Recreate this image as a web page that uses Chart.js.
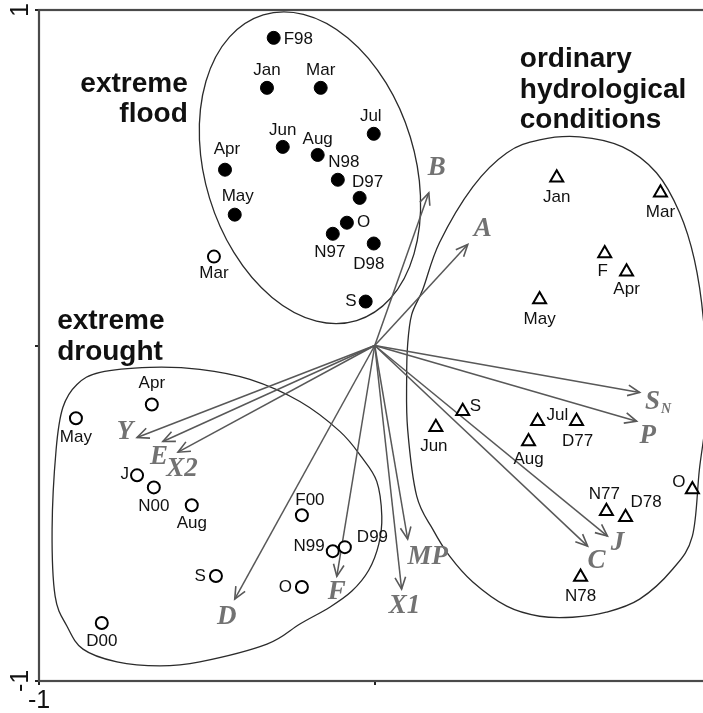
<!DOCTYPE html>
<html>
<head>
<meta charset="utf-8">
<script src="https://cdn.jsdelivr.net/npm/chart.js@4/dist/chart.umd.min.js"></script>
<style>
  html, body { margin: 0; padding: 0; overflow: hidden; background: #fff; }
  #wrap { width: 720px; height: 713px; }
</style>
</head>
<body>
<div id="wrap"><canvas id="c" width="720" height="713"></canvas></div>
<script>
// ---- Sample scores: extreme flood months (filled circles)
const floodLabels = ['F98', 'Jan', 'Mar', 'Jul', 'Jun', 'Aug', 'N98', 'D97', 'Apr', 'May', 'O', 'N97', 'D98', 'S'];
const floodX = [-0.301, -0.321, -0.161, -0.003, -0.274, -0.170, -0.110, -0.045, -0.446, -0.417, -0.083, -0.125, -0.003, -0.027];
const floodY = [0.917, 0.768, 0.768, 0.631, 0.592, 0.568, 0.494, 0.440, 0.524, 0.390, 0.366, 0.333, 0.304, 0.131];

// ---- Sample scores: extreme drought months (open circles)
const droughtLabels = ['Mar', 'Apr', 'May', 'J', 'N00', 'Aug', 'F00', 'N99', 'D99', 'S', 'O', 'D00'];
const droughtX = [-0.479, -0.664, -0.890, -0.708, -0.658, -0.545, -0.217, -0.125, -0.089, -0.473, -0.217, -0.813];
const droughtY = [0.265, -0.176, -0.217, -0.387, -0.423, -0.476, -0.506, -0.613, -0.601, -0.687, -0.720, -0.827];

// ---- Sample scores: ordinary hydrological conditions (open triangles)
const ordinaryLabels = ['Jan', 'Mar', 'F', 'Apr', 'May', 'S', 'Jun', 'Jul', 'D77', 'Aug', 'N77', 'D78', 'O', 'N78'];
const ordinaryX = [0.542, 0.851, 0.685, 0.750, 0.491, 0.262, 0.182, 0.485, 0.601, 0.458, 0.690, 0.747, 0.946, 0.613];
const ordinaryY = [0.500, 0.455, 0.274, 0.220, 0.137, -0.196, -0.244, -0.226, -0.226, -0.286, -0.494, -0.512, -0.429, -0.690];

// ---- Variable loadings (arrows from the origin)
const varLabels = ['B', 'A', 'S_N', 'P', 'J', 'C', 'X1', 'MP', 'F', 'D', 'Y', 'E', 'X2'];
const varX = [0.161, 0.277, 0.789, 0.780, 0.693, 0.634, 0.080, 0.098, -0.113, -0.417, -0.708, -0.631, -0.586];
const varY = [0.455, 0.301, -0.140, -0.226, -0.568, -0.598, -0.726, -0.577, -0.688, -0.756, -0.274, -0.286, -0.318];

// ---- Axis ticks
const axisTicks = [-1, 0, 1];

// ---- Label placement relative to each marker: [dx, dy, align] in pixels
const floodLabelPos = [[10,1,'left'],[0,-18,'center'],[0,-18,'center'],[-3,-17,'center'],[0,-17,'center'],[0,-16,'center'],[6,-17,'center'],[8,-16,'center'],[2,-20,'center'],[3,-18,'center'],[10,0,'left'],[-3,19,'center'],[-5,21,'center'],[-9,0,'right']];
const droughtLabelPos = [[0,17,'center'],[0,-21,'center'],[0,19,'center'],[-8,-1,'right'],[0,19,'center'],[0,18,'center'],[8,-15,'center'],[-8,-5,'right'],[12,-10,'left'],[-10,0,'right'],[-10,0,'right'],[0,18,'center']];
const ordinaryLabelPos = [[0,20,'center'],[0,19,'center'],[-2,18,'center'],[0,18,'center'],[0,20,'center'],[7,-5,'left'],[-2,19,'center'],[9,-6,'left'],[1,20,'center'],[0,18,'center'],[-2,-17,'center'],[5,-15,'left'],[-7,-7,'right'],[0,19,'center']];
const varLabelPos = [[8,-25],[15,-15],[18,10],[11,15],[10,7],[9,15],[3,17],[20,18],[0,16],[-8,18],[-12,-5],[-4,16],[4,17]];

// ---- Group outlines (data units)
const floodHull = { cx: -0.193, cy: 0.530, a: 0.476, b: 0.3125, angle: 73 };
const droughtHull = [[-0.929,-0.185],[-0.887,-0.116],[-0.818,-0.080],[-0.670,-0.065],[-0.521,-0.071],[-0.372,-0.101],[-0.223,-0.167],[-0.104,-0.256],[-0.039,-0.333],[0.006,-0.405],[0.021,-0.509],[0.012,-0.592],[-0.018,-0.670],[-0.068,-0.732],[-0.134,-0.780],[-0.223,-0.830],[-0.321,-0.890],[-0.521,-0.943],[-0.640,-0.955],[-0.768,-0.943],[-0.869,-0.905],[-0.917,-0.836],[-0.952,-0.747],[-0.961,-0.548],[-0.949,-0.310]];
const ordinaryHull = [[0.098,0.003],[0.110,0.092],[0.143,0.167],[0.193,0.307],[0.292,0.473],[0.393,0.574],[0.491,0.613],[0.610,0.622],[0.738,0.592],[0.839,0.515],[0.908,0.396],[0.952,0.256],[0.979,0.077],[0.991,-0.161],[0.967,-0.369],[0.946,-0.568],[0.887,-0.667],[0.789,-0.756],[0.690,-0.795],[0.589,-0.810],[0.491,-0.807],[0.393,-0.777],[0.292,-0.705],[0.223,-0.628],[0.173,-0.548],[0.125,-0.449],[0.098,-0.250],[0.095,-0.101]];

// ---- Group titles: lines, anchor (data units), alignment
const groupTitles = [
  { lines: ['extreme', 'flood'], x: -0.557, y: 0.756, align: 'right' },
  { lines: ['ordinary', 'hydrological', 'conditions'], x: 0.432, y: 0.830, align: 'left' },
  { lines: ['extreme', 'drought'], x: -0.946, y: 0.048, align: 'left' }
];

const SANS = '"Liberation Sans", Arial, sans-serif';
const SERIF = '"Liberation Serif", "Times New Roman", serif';

const zip = (xs, ys) => xs.map((x, i) => ({ x: x, y: ys[i] }));

const datasets = [
  { label: 'extreme flood', data: zip(floodX, floodY), pointStyle: 'circle', pointRadius: 6.5,
    backgroundColor: '#000', borderColor: '#000', borderWidth: 1 },
  { label: 'extreme drought', data: zip(droughtX, droughtY), pointStyle: 'circle', pointRadius: 6,
    backgroundColor: '#fff', borderColor: '#000', borderWidth: 2 },
  { label: 'ordinary', data: zip(ordinaryX, ordinaryY), pointStyle: 'triangle', pointRadius: 7.5,
    backgroundColor: '#fff', borderColor: '#000', borderWidth: 2 }
];
varLabels.forEach((name, i) => {
  datasets.push({ label: name, data: [{ x: 0, y: 0 }, { x: varX[i], y: varY[i] }], showLine: true,
    pointRadius: 0, borderColor: '#585858', borderWidth: 1.5, fill: false, isLoading: true });
});

function closedCurve(ctx, pts) {
  const n = pts.length;
  ctx.beginPath();
  ctx.moveTo(pts[0][0], pts[0][1]);
  for (let i = 0; i < n; i++) {
    const p0 = pts[(i - 1 + n) % n], p1 = pts[i], p2 = pts[(i + 1) % n], p3 = pts[(i + 2) % n];
    ctx.bezierCurveTo(p1[0] + (p2[0] - p0[0]) / 6, p1[1] + (p2[1] - p0[1]) / 6,
                      p2[0] - (p3[0] - p1[0]) / 6, p2[1] - (p3[1] - p1[1]) / 6, p2[0], p2[1]);
  }
  ctx.closePath();
  ctx.stroke();
}

const decorations = {
  id: 'decorations',
  beforeDatasetsDraw(chart) {
    const ctx = chart.ctx, sx = chart.scales.x, sy = chart.scales.y;
    const unit = Math.abs(sx.getPixelForValue(1) - sx.getPixelForValue(0));
    ctx.save();
    ctx.strokeStyle = '#2b2b2b';
    ctx.lineWidth = 1.3;
    ctx.beginPath();
    ctx.ellipse(sx.getPixelForValue(floodHull.cx), sy.getPixelForValue(floodHull.cy),
                floodHull.a * unit, floodHull.b * unit, floodHull.angle * Math.PI / 180, 0, 2 * Math.PI);
    ctx.stroke();
    [droughtHull, ordinaryHull].forEach(h => {
      closedCurve(ctx, h.map(p => [sx.getPixelForValue(p[0]), sy.getPixelForValue(p[1])]));
    });
    // group titles
    ctx.fillStyle = '#111';
    ctx.font = 'bold 28px ' + SANS;
    ctx.textBaseline = 'alphabetic';
    groupTitles.forEach(g => {
      ctx.textAlign = g.align;
      const x = sx.getPixelForValue(g.x), y = sy.getPixelForValue(g.y);
      g.lines.forEach((t, k) => ctx.fillText(t, x, y + k * 30.5));
    });
    ctx.restore();
  },
  afterDatasetsDraw(chart) {
    const ctx = chart.ctx;
    ctx.save();
    // arrowheads and variable names
    chart.data.datasets.forEach((ds, di) => {
      if (!ds.isLoading) return;
      const meta = chart.getDatasetMeta(di);
      const o = meta.data[0], t = meta.data[1];
      const ang = Math.atan2(t.y - o.y, t.x - o.x);
      const len = 13, spread = 0.42;
      ctx.strokeStyle = '#585858';
      ctx.lineWidth = 1.6;
      ctx.beginPath();
      ctx.moveTo(t.x - len * Math.cos(ang - spread), t.y - len * Math.sin(ang - spread));
      ctx.lineTo(t.x, t.y);
      ctx.lineTo(t.x - len * Math.cos(ang + spread), t.y - len * Math.sin(ang + spread));
      ctx.stroke();
      const idx = di - 3;
      const off = varLabelPos[idx];
      const lx = t.x + off[0], ly = t.y + off[1];
      const parts = ds.label.split('_');
      ctx.fillStyle = '#727272';
      ctx.textBaseline = 'middle';
      ctx.font = 'italic bold 27px ' + SERIF;
      if (parts.length === 1) {
        ctx.textAlign = 'center';
        ctx.fillText(parts[0], lx, ly);
      } else {
        const w = ctx.measureText(parts[0]).width;
        ctx.font = 'italic bold 14px ' + SERIF;
        const ws = ctx.measureText(parts[1]).width;
        const left = lx - (w + ws) / 2;
        ctx.textAlign = 'left';
        ctx.font = 'italic bold 27px ' + SERIF;
        ctx.fillText(parts[0], left, ly);
        ctx.font = 'italic bold 14px ' + SERIF;
        ctx.fillText(parts[1], left + w + 1, ly + 7);
      }
    });
    // sample names
    const names = [floodLabels, droughtLabels, ordinaryLabels];
    const pos = [floodLabelPos, droughtLabelPos, ordinaryLabelPos];
    ctx.fillStyle = '#111';
    ctx.font = '17px ' + SANS;
    ctx.textBaseline = 'middle';
    for (let g = 0; g < 3; g++) {
      const meta = chart.getDatasetMeta(g);
      meta.data.forEach((el, i) => {
        const p = pos[g][i];
        ctx.textAlign = p[2];
        ctx.fillText(names[g][i], el.x + p[0], el.y + p[1]);
      });
    }
    // frame
    const a = chart.chartArea;
    ctx.strokeStyle = '#4a4a4a';
    ctx.lineWidth = 2.2;
    ctx.strokeRect(a.left, a.top, a.right - a.left, a.bottom - a.top);
    ctx.restore();
  }
};

new Chart(document.getElementById('c'), {
  type: 'scatter',
  data: { datasets: datasets },
  options: {
    responsive: false,
    animation: false,
    events: [],
    layout: { padding: { top: 10, right: 9, left: 0, bottom: 0 } },
    plugins: { legend: { display: false }, tooltip: { enabled: false } },
    scales: {
      x: {
        min: -1, max: 1,
        afterBuildTicks: s => { s.ticks = axisTicks.map(v => ({ value: v })); },
        afterFit: s => { s.height = 32; s.paddingLeft = 0; s.paddingRight = 0; },
        border: { display: false },
        grid: { drawOnChartArea: false, drawTicks: true, tickLength: 4, color: '#222', lineWidth: 2 },
        ticks: { autoSkip: false, maxRotation: 0, padding: 1, color: '#111',
                 font: { family: SANS, size: 25 },
                 callback: v => (v === 0 ? '' : String(v)) }
      },
      y: {
        min: -1, max: 1,
        afterBuildTicks: s => { s.ticks = axisTicks.map(v => ({ value: v })); },
        afterFit: s => { s.width = 39; s.paddingTop = 0; s.paddingBottom = 0; },
        border: { display: false },
        grid: { drawOnChartArea: false, drawTicks: true, tickLength: 4, color: '#222', lineWidth: 2 },
        ticks: { autoSkip: false, minRotation: 90, maxRotation: 90, crossAlign: 'center', padding: 3,
                 color: '#111', font: { family: SANS, size: 25 },
                 callback: v => (v === 0 ? '' : String(v)) }
      }
    }
  },
  plugins: [decorations]
});
</script>
</body>
</html>
